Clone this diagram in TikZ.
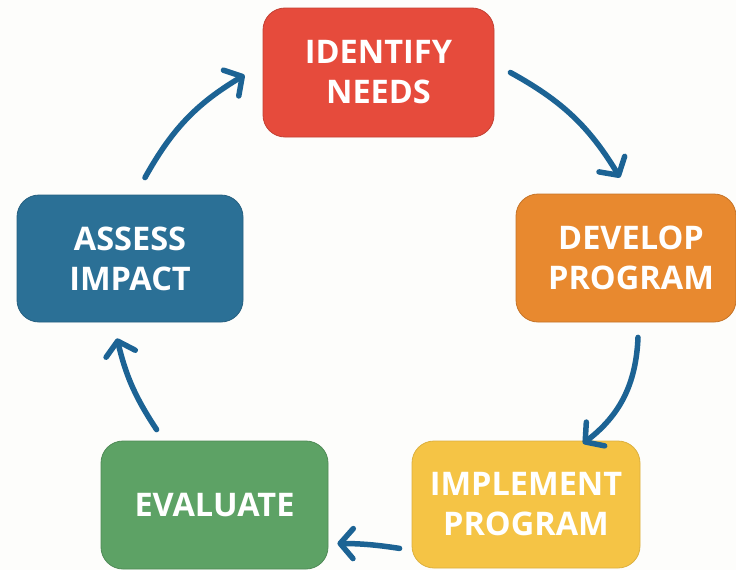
\documentclass[tikz,border=0pt]{standalone}
\usepackage{fontspec}
\setmainfont{Open Sans}[BoldFont={* Bold}]
\usetikzlibrary{arrows.meta,calc}
\definecolor{bgc}{HTML}{FDFDFB}
\definecolor{redc}{HTML}{E64B3C}
\definecolor{orangec}{HTML}{E8892F}
\definecolor{yellowc}{HTML}{F5C445}
\definecolor{greenc}{HTML}{5DA265}
\definecolor{bluec}{HTML}{2B7096}
\definecolor{arrc}{HTML}{1C6394}
\tikzset{
  stepbox/.style={rounded corners=22pt, inner sep=0pt, align=center,
    text=white, font=\bfseries\fontsize{32.5}{40}\selectfont, line width=0.8pt},
  cyc/.style={draw=arrc, line width=5.5pt, line cap=round,
    -{Straight Barb[length=13pt,width=30pt,round]}},
}
\begin{document}
\begin{tikzpicture}[x=1pt,y=-1pt]
\useasboundingbox[fill=bgc] (0,0) rectangle (736,570);
\node[stepbox, fill=redc, draw=redc!85!black, minimum width=231pt, minimum height=129pt] (identify) at (378.5,72.5) {IDENTIFY\\NEEDS};
\node[stepbox, fill=orangec, draw=orangec!85!black, minimum width=220pt, minimum height=128pt] (develop) at (626,258) {\hspace*{10pt}DEVELOP\\\hspace*{10pt}PROGRAM};
\node[stepbox, fill=yellowc, draw=yellowc!90!black, minimum width=228pt, minimum height=127pt] (implement) at (526,504.5) {IMPLEMENT\\PROGRAM};
\node[stepbox, fill=greenc, draw=greenc!85!black, minimum width=227pt, minimum height=128pt] (evaluate) at (214.5,505) {EVALUATE};
\node[stepbox, fill=bluec, draw=bluec!85!black, minimum width=226pt, minimum height=127pt] (assess) at (130,258.5) {ASSESS\\IMPACT};
\draw[cyc] ($(assess.north)+(15,-17)$) to[bend left=15] ($(identify.west)+(-18,2.5)$);
\draw[cyc] ($(identify.east)+(16,0)$) to[bend left=15] ($(develop.north)+(-6,-16)$);
\draw[cyc] ($(develop.south)+(12,15)$) to[bend left=25] ($(implement.north)+(57,3)$);
\draw[cyc] ($(implement.south west)+(-12,-20)$) to[bend right=4] ($(evaluate.south east)+(9,-26)$);
\draw[cyc] ($(evaluate.north west)+(56,-11)$) to[bend left=10] ($(assess.south)+(-13,16)$);
\end{tikzpicture}
\end{document}
